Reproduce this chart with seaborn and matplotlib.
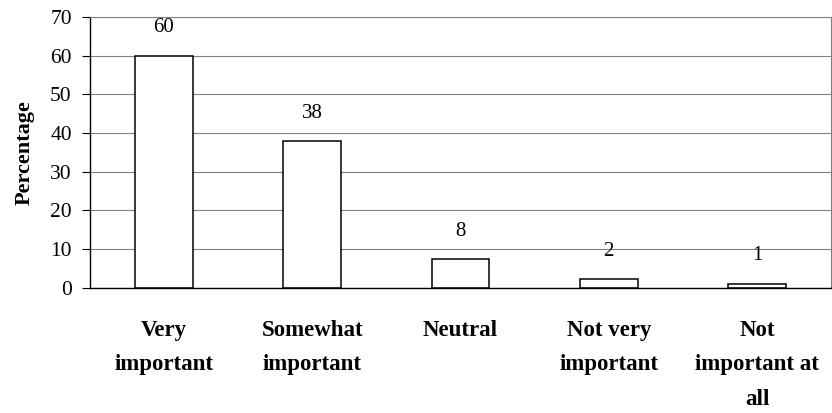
import matplotlib
matplotlib.use("Agg")
import matplotlib.pyplot as plt
import seaborn as sns
import pandas as pd

categories = ["Very\nimportant", "Somewhat\nimportant", "Neutral",
              "Not very\nimportant", "Not\nimportant at\nall"]
values = [60, 38, 7.5, 2.2, 1.1]
value_labels = ["60", "38", "8", "2", "1"]
y_ticks = [0, 10, 20, 30, 40, 50, 60, 70]

sns.set_style("white")
plt.rcParams['font.family'] = ['Liberation Serif', 'DejaVu Serif']
for key in ["text.color", "axes.labelcolor", "xtick.color", "ytick.color"]:
    plt.rcParams[key] = "black"

df = pd.DataFrame({"category": categories, "value": values})

fig = plt.figure(figsize=(8.32, 4.13), dpi=100)
ax = fig.add_axes([0.108, 0.303, 0.891, 0.656])

sns.barplot(data=df, x="category", y="value", ax=ax, color="white",
            edgecolor="black", linewidth=1.1, width=0.39, saturation=1)

# value labels above the bars
for i, (v, lab) in enumerate(zip(values, value_labels)):
    ax.annotate(lab, (i, v), xytext=(0, 20), textcoords="offset points",
                ha="center", va="center", fontsize=15, color="black")

ax.set_ylim(0, 70)
ax.set_xlim(-0.5, len(categories) - 0.5)
ax.set_yticks(y_ticks)
ax.yaxis.grid(True, color="#808080", linewidth=0.8)
ax.set_axisbelow(True)

ax.set_xticks(range(len(categories)))
ax.set_xticklabels(categories, fontsize=16.5, fontweight="bold", linespacing=1.85)
ax.set_xticks([i - 0.5 for i in range(len(categories) + 1)], minor=True)
ax.tick_params(axis="x", which="major", length=0, pad=23)
ax.tick_params(axis="x", which="minor", length=6, width=0.8, color="black", direction="out")
ax.tick_params(axis="y", length=6, width=0.8, color="black", direction="out",
               labelsize=15.5, pad=7, left=True)

ax.set_xlabel("")
ax.set_ylabel("Percentage", fontsize=16, fontweight="bold", labelpad=11)

for side in ["left", "bottom"]:
    ax.spines[side].set_color("black")
    ax.spines[side].set_linewidth(1.0)
for side in ["top", "right"]:
    ax.spines[side].set_color("#808080")
    ax.spines[side].set_linewidth(0.8)

fig.savefig("out.png", dpi=100)
